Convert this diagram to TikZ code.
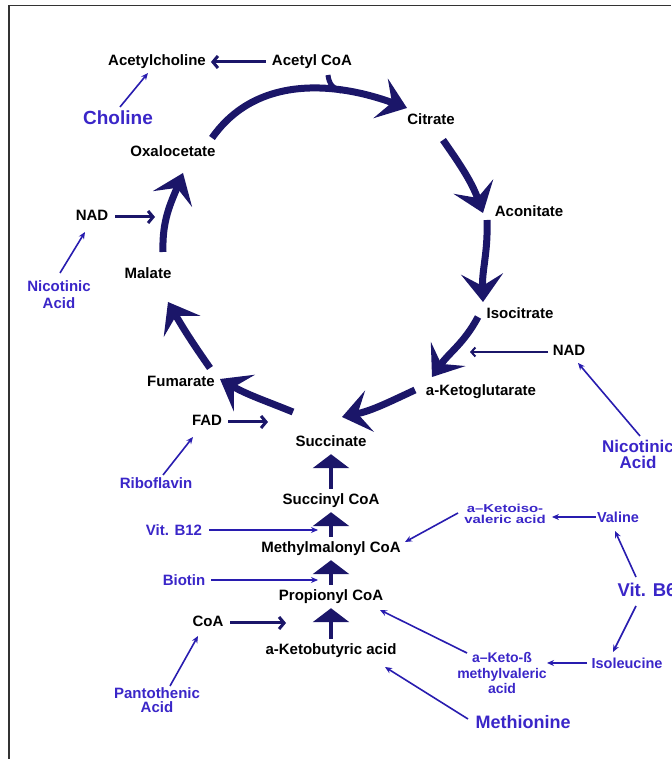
\documentclass[tikz,border=0pt]{standalone}
\usepackage{fontspec}
\setmainfont{Liberation Sans}
\newfontfamily\widesans{Liberation Sans}[FakeStretch=1.3]
\usetikzlibrary{arrows.meta}
\definecolor{navyarc}{RGB}{27,22,105}
\definecolor{vitblue}{RGB}{58,38,200}
\definecolor{vitline}{RGB}{40,28,175}
\tikzset{
	lbl/.style={font=\bfseries\fontsize{15}{16}\selectfont, text height=11pt, text depth=3pt, inner sep=1pt},
	vtm/.style={font=\bfseries\fontsize{15}{15}\selectfont, text=vitblue, inner sep=1pt, align=center},
	cyc/.style={draw=navyarc, line width=7pt, -{Stealth[length=28pt,width=42pt,inset=12pt]}},
	cof/.style={draw=navyarc, line width=3pt, -{Straight Barb[length=5pt,width=12pt]}},
	vit/.style={draw=vitline, line width=1.6pt, -{Stealth[length=7pt,width=6pt]}},
	uparr/.style={draw=navyarc, line width=4.5pt, -{Triangle[length=14pt,width=36pt]}, shorten <=4pt, shorten >=3pt}
}

\begin{document}
\begin{tikzpicture}[x=10pt, y=10pt]
		%%%%% START %%%%%
		\useasboundingbox (0,0) rectangle (67.1,75.9);
		\draw[line width=1.5pt, black!80] (0.9,0) -- (0.9,75.35) -- (67.1,75.35);
		
		\node[lbl] (acch) at (15.7,69.7) {Acetylcholine};
		\node[lbl] (acoa) at (31.2,69.7) {Acetyl CoA};
		\node[vtm, font=\bfseries\fontsize{19}{20}\selectfont] (chol) at (11.8,64.1) {Choline};
		\node[lbl] (cit) at (43.1,63.8) {Citrate};
		\node[lbl] (oxa) at (17.3,60.6) {Oxalocetate};
		\node[lbl] (aco) at (52.9,54.6) {Aconitate};
		\node[lbl] (nadL) at (9.2,54.2) {NAD};
		\node[vtm, font=\bfseries\fontsize{15}{17}\selectfont] (nicL) at (5.9,46.4) {Nicotinic\\Acid};
		\node[lbl] (mal) at (14.8,48.4) {Malate};
		\node[lbl] (iso) at (52.0,44.4) {Isocitrate};
		\node[lbl] (nadR) at (56.9,40.7) {NAD};
		\node[lbl] (akg) at (48.1,36.7) {a-Ketoglutarate};
		\node[lbl] (fum) at (18.1,37.6) {Fumarate};
		\node[lbl] (fad) at (20.7,33.7) {FAD};
		\node[lbl] (suc) at (33.1,31.6) {Succinate};
		\node[vtm, font=\bfseries\fontsize{17}{16}\selectfont] (nicR) at (63.8,30.5) {Nicotinic\\Acid};
		
		\node[vtm] (ribo) at (15.6,27.6) {Riboflavin};
		\node[lbl] (scoa) at (33.1,25.8) {Succinyl CoA};
		\node[vtm] (b12) at (17.4,22.9) {Vit. B12};
		\node[vtm, font=\widesans\bfseries\fontsize{11.5}{10.5}\selectfont] (kiv) at (50.5,24.5) {a–Ketoiso-\\valeric acid};
		\node[vtm, font=\bfseries\fontsize{14.5}{15}\selectfont] (val) at (61.8,24.2) {Valine};
		\node[lbl] (mmc) at (33.1,21.0) {Methylmalonyl CoA};
		\node[vtm] (bio) at (18.4,17.9) {Biotin};
		\node[vtm, font=\bfseries\fontsize{18.5}{20}\selectfont] (vb6) at (64.7,16.9) {Vit. B6};
		\node[lbl] (pcoa) at (33.1,16.2) {Propionyl CoA};
		\node[lbl] (coa) at (20.8,13.6) {CoA};
		\node[lbl] (akb) at (33.1,10.8) {a-Ketobutyric acid};
		\node[vtm, font=\bfseries\fontsize{14.5}{15}\selectfont] (ile) at (62.7,9.6) {Isoleucine};
		\node[vtm, font=\bfseries\fontsize{14}{15.5}\selectfont] (kmv) at (50.2,8.6) {a–Keto-ß\\methylvaleric\\acid};
		\node[vtm, font=\bfseries\fontsize{15}{14}\selectfont] (pant) at (15.7,5.9) {Pantothenic\\Acid};
		\node[vtm, font=\bfseries\fontsize{18}{20}\selectfont] (met) at (52.3,3.7) {Methionine};
		
		% the cycle
		\draw[cyc] ([shift={(3.9,1.5)}]oxa.center) to[out=55,in=160] node[coordinate,pos=0.7] (join) {} ([shift={(-2.4,1.3)}]cit.center);
		\draw[cyc, line width=5pt, -] ([shift={(1.6,-1.3)}]acoa.center) to[out=-85,in=172] (join);
		\draw[cyc] ([shift={(1.2,-1.9)}]cit.center) to[out=-55,in=110] ([shift={(-4.6,0)}]aco.center);
		\draw[cyc] ([shift={(-4.2,-0.7)}]aco.center) to[out=-88,in=92] ([shift={(-3.7,1.3)}]iso.center);
		\draw[cyc] ([shift={(-4.2,-0.2)}]iso.center) to[out=-118,in=55] ([shift={(-4.9,1.5)}]akg.center);
		\draw[cyc] ([shift={(-6.6,0.2)}]akg.center) to[out=-155,in=12] ([shift={(1.1,2.6)}]suc.center);
		\draw[cyc] ([shift={(-3.8,3.1)}]suc.center) to[out=158,in=-30] ([shift={(3.9,0.4)}]fum.center);
		\draw[cyc] ([shift={(2.9,1.5)}]fum.center) to[out=125,in=-60] ([shift={(2.0,-2.7)}]mal.center);
		\draw[cyc] ([shift={(1.5,2.3)}]mal.center) to[out=92,in=-112] ([shift={(1.0,-2.0)}]oxa.center);
		
		% cofactors
		\draw[cof, shorten <=5pt, shorten >=4pt] (acoa) -- (acch);
		\draw[cof] ([xshift=23pt]nadL.center) -- ([xshift=63pt]nadL.center);
		\draw[cof] ([xshift=21pt]fad.center) -- ([xshift=61pt]fad.center);
		\draw[cof] ([xshift=22pt]coa.center) -- ([xshift=78pt]coa.center);
		\draw[cof, line width=2pt, -{Straight Barb[length=4pt,width=9pt]}] ([xshift=-21pt]nadR.center) -- ([xshift=-99pt]nadR.center);
		
		% vitamins
		\draw[vit] ([shift={(0.2,1.1)}]chol.center) -- ([shift={(-0.9,-1.1)}]acch.center);
		\draw[vit] ([shift={(0.1,2.2)}]nicL.center) -- ([shift={(-0.7,-1.5)}]nadL.center);
		\draw[vit] ([shift={(0.7,0.8)}]ribo.center) -- ([shift={(-1.4,-1.5)}]fad.center);
		\draw[vit] ([shift={(1.3,1.4)}]pant.center) -- ([shift={(-1.0,-1.3)}]coa.center);
		\draw[vit] ([shift={(0.2,1.8)}]nicR.center) -- ([shift={(0.9,-1.1)}]nadR.center);
		\draw[vit, shorten <=6pt, shorten >=13pt] (b12) -- (b12 -| scoa);
		\draw[vit, shorten <=5pt, shorten >=13pt] (bio) -- (bio -| pcoa);
		
		\draw[vit, line width=2pt, shorten >=5pt] (val) -- (val -| kiv.east);
		\draw[vit] ([shift={(-4.7,0.1)}]kiv.center) -- ([shift={(7.4,0.7)}]mmc.center);
		\draw[vit] ([shift={(-1.1,1.3)}]vb6.center) -- ([shift={(-0.3,-1.4)}]val.center);
		\draw[vit] ([shift={(-1.1,-1.6)}]vb6.center) -- ([shift={(-1.4,1.1)}]ile.center);
		\draw[vit, line width=2pt] ([xshift=-40pt]ile.center) -- ([shift={(4.5,1.0)}]kmv.center);
		\draw[vit] ([shift={(-3.5,2.0)}]kmv.center) -- ([shift={(4.9,-1.3)}]pcoa.center);
		\draw[vit] ([shift={(-5.5,0.3)}]met.center) -- ([shift={(5.4,-1.6)}]akb.center);
		
		% propionate route
		\draw[uparr] (akb) -- (pcoa);
		\draw[uparr] (pcoa) -- (mmc);
		\draw[uparr] (mmc) -- (scoa);
		\draw[uparr] (scoa) -- (suc);
		%%%%% END %%%%%
\end{tikzpicture}
\end{document}
